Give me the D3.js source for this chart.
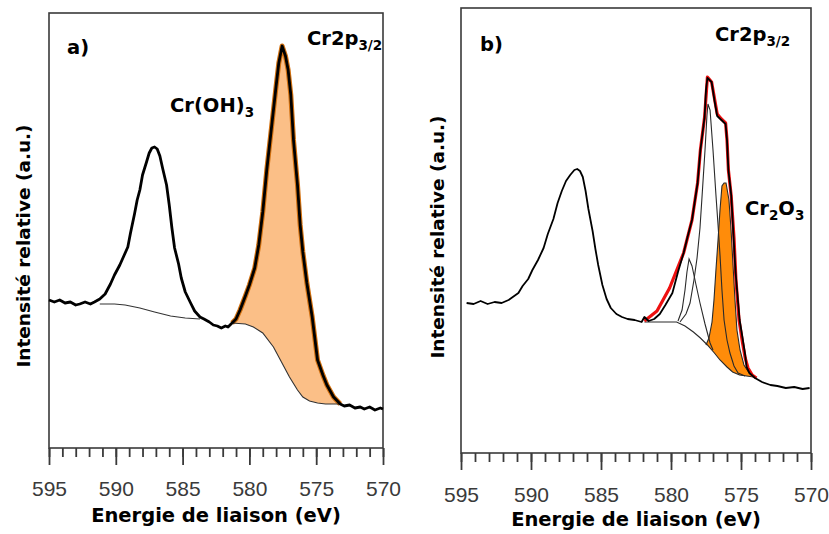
<!DOCTYPE html>
<html>
<head>
<meta charset="utf-8">
<script src="https://cdn.jsdelivr.net/npm/d3@7"></script>
<style>
    body { margin: 0; background: #fff; }
    svg { display: block; }
    .tick text { font-family: "Liberation Sans", Arial, sans-serif; }
</style>
</head>
<body>
<svg id="chart" width="829" height="534"></svg>
<script>
// binding energy (eV) / intensity (a.u.)
var majorTicks = [595, 590, 585, 580, 575, 570]
var minorTicks = [595, 594, 593, 592, 591, 590, 589, 588, 587, 586, 585, 584, 583, 582, 581, 580, 579, 578, 577, 576, 575, 574, 573, 572, 571, 570]

// a) spectrum
var aSpecE = [595.0, 594.6, 594.2, 593.8, 593.4, 593.0, 592.7, 592.3, 591.9, 591.6, 591.2, 590.8, 590.4, 590.1, 589.7, 589.4, 589.1, 588.9, 588.6, 588.4, 588.2, 588.0, 587.7, 587.5, 587.3, 587.1, 586.9, 586.7, 586.5, 586.2, 586.0, 585.8, 585.6, 585.3, 585.1, 584.8, 584.4, 584.1, 583.7, 583.4, 583.0, 582.7, 582.4, 582.1, 581.8, 581.6, 581.3, 581.0, 580.7, 580.3, 580.0, 579.6, 579.3, 579.0, 578.7, 578.3, 578.0, 577.8, 577.55, 577.3, 577.1, 576.9, 576.7, 576.4, 576.2, 576.0, 575.7, 575.3, 574.9, 574.5, 574.2, 573.7, 573.2, 572.9, 572.5, 572.1, 571.7, 571.4, 571.0, 570.6, 570.2, 570.0]
var aSpecI = [146, 144, 146, 143, 144, 141, 142, 144, 142, 144, 147, 152, 162, 171, 181, 190, 199, 213, 232, 246, 256, 271, 284, 293, 298, 299, 297, 290, 278, 261, 241, 218, 198, 182, 168, 154, 143, 135, 129, 127, 124, 121, 120, 118, 120, 119, 123, 127, 136, 150, 161, 178, 201, 234, 276, 324, 360, 383, 400, 390, 376, 351, 306, 261, 221, 194, 163, 129, 86, 71, 61, 49, 42, 40, 41, 38, 39, 37, 39, 36, 38, 37]
// a) backgrounds under Cr(OH)3 region and under Cr2p3/2
var aBg1E = [591.2, 590.1, 589.3, 588.2, 587.1, 585.9, 584.8, 583.7]
var aBg1I = [142, 142, 141, 138, 134, 130, 128, 127]
var aBg2E = [581.3, 580.3, 579.7, 579.0, 578.2, 577.6, 577.0, 576.4, 576.0, 575.5, 574.9, 574.3, 573.7, 573.2]
var aBg2I = [123, 122, 119, 113, 99, 84, 69, 56, 49, 45, 43, 42, 42, 42]

// b) spectrum
var bSpecE = [594.6, 594.1, 593.6, 593.1, 592.6, 592.1, 591.6, 591.3, 590.9, 590.6, 590.2, 589.9, 589.5, 589.1, 588.8, 588.4, 588.1, 587.8, 587.5, 587.2, 586.9, 586.7, 586.5, 586.3, 586.1, 585.9, 585.6, 585.4, 585.2, 584.9, 584.6, 584.3, 583.9, 583.5, 583.1, 582.6, 582.1, 581.9, 581.6, 581.2, 580.8, 580.4, 579.9, 579.5, 579.1, 578.8, 578.5, 578.1, 577.9, 577.6, 577.5, 577.4, 577.1, 576.9, 576.7, 576.4, 576.1, 576.0, 575.9, 575.7, 575.5, 575.4, 575.3, 575.1, 574.9, 574.7, 574.6, 574.4, 574.0, 573.5, 572.9, 572.4, 571.8, 571.2, 570.6, 570.1]
var bSpecI = [150, 149, 152, 149, 151, 150, 153, 156, 160, 167, 174, 183, 193, 205, 219, 234, 250, 262, 272, 278, 283, 284, 282, 276, 262, 244, 222, 204, 188, 168, 154, 145, 139, 136, 134, 133, 131, 136, 132, 134, 139, 148, 160, 181, 200, 217, 233, 270, 303, 336, 363, 375, 371, 353, 337, 333, 329, 313, 283, 258, 208, 183, 166, 133, 116, 98, 86, 80, 75, 71, 68, 67, 65, 66, 64, 65]
// b) fitted envelope
var bFitE = [581.9, 581.0, 580.1, 579.1, 578.5, 578.1, 577.9, 577.6, 577.4, 577.1, 576.9, 576.7, 576.4, 576.1, 576.0, 575.9, 575.7, 575.5, 575.36, 575.14, 574.9, 574.7, 574.5, 574.2, 573.9]
var bFitI = [132, 142, 165, 200, 233, 270, 303, 336, 376, 371, 355, 339, 334, 330, 313, 283, 257, 215, 173, 133, 111, 95, 85, 78, 75]
// b) background
var bBgE = [581.9, 580.8, 579.6, 579.0, 578.4, 577.9, 577.4, 576.9, 576.5, 576.0, 575.6, 575.1, 574.6, 574.1, 573.9]
var bBgI = [131, 131, 131, 127, 121, 115, 108, 100, 93, 86, 81, 78, 77, 76, 75]
// b) components
var bMainE = [579.36, 578.93, 578.64, 578.36, 578.14, 577.93, 577.79, 577.57, 577.43, 577.36, 577.21, 577.0, 576.79, 576.64, 576.5, 576.36, 576.21, 576.0, 575.79, 575.5, 575.21, 574.71]
var bMainI = [131, 139, 150, 173, 195, 225, 255, 303, 338, 349, 343, 303, 258, 228, 198, 163, 133, 113, 100, 87, 80, 77]
var bSmallE = [579.5, 579.21, 579.0, 578.86, 578.71, 578.5, 578.21, 577.93, 577.57, 577.21, 577.0]
var bSmallI = [132, 143, 163, 181, 194, 187, 168, 150, 129, 110, 103]
var bOxE = [577.5, 577.29, 577.07, 576.93, 576.79, 576.64, 576.5, 576.36, 576.21, 576.07, 575.86, 575.71, 575.57, 575.43, 575.29, 575.07, 574.79, 574.36, 573.93]
var bOxI = [108, 115, 131, 153, 183, 213, 243, 267, 270, 270, 253, 223, 188, 153, 123, 103, 88, 79, 76]

var FONT = '"DejaVu Sans", Verdana, sans-serif'
var svg = d3.select('#chart')

function zip(e, v) {
    return e.map((d, i) => [d, v[i]])
}

function drawPanel(conf) {
    var x = d3.scaleLinear().domain([595, 570]).range([conf.left, conf.right])
    var y = d3.scaleLinear().domain([0, 450]).range([conf.base, conf.base - 450])
    var line = d3.line().x(d => x(d[0])).y(d => y(d[1]))
    var g = svg.append('g')

    // frame
    g.append('rect')
        .attr('x', conf.left).attr('y', conf.top)
        .attr('width', conf.right - conf.left).attr('height', conf.bottom - conf.top)
        .attr('fill', 'none').attr('stroke', '#3a3a3a').attr('stroke-width', 1.6)

    // axis: minor ticks, then major ticks with labels
    var minor = d3.axisBottom(x).tickValues(minorTicks).tickSize(9).tickFormat('')
    var major = d3.axisBottom(x).tickValues(majorTicks).tickSize(17).tickPadding(conf.pad).tickFormat(d3.format('d'))
    g.append('g').attr('transform', `translate(0,${conf.bottom})`).call(minor)
    var ax = g.append('g').attr('transform', `translate(0,${conf.bottom})`).call(major)
    g.selectAll('.domain').remove()
    g.selectAll('.tick line').attr('stroke', '#3a3a3a').attr('stroke-width', 1.8)
    ax.selectAll('.tick text').attr('font-size', 21).attr('fill', '#3a3a3a')

    g.append('text')
        .attr('x', (conf.left + conf.right) / 2).attr('y', conf.titleY)
        .attr('text-anchor', 'middle')
        .attr('font-family', FONT).attr('font-weight', 'bold').attr('font-size', 19.5)
        .text('Energie de liaison (eV)')
    g.append('text')
        .attr('transform', `translate(${conf.yTitleX},${conf.yTitleY}) rotate(-90)`)
        .attr('text-anchor', 'middle')
        .attr('font-family', FONT).attr('font-weight', 'bold').attr('font-size', 18.5)
        .text('Intensité relative (a.u.)')

    return { g, x, y, line }
}

function label(g, px, py, parts) {
    var t = g.append('text')
        .attr('x', px).attr('y', py)
        .attr('font-family', FONT).attr('font-weight', 'bold').attr('font-size', 19.5)
    var shift = 0
    parts.forEach(p => {
        var dy = p.sub ? 5 - shift : -shift
        shift = p.sub ? 5 : 0
        t.append('tspan').attr('dy', dy).attr('font-size', p.sub ? 13.5 : 19.5).text(p.t)
    })
}

// ---------- panel a ----------
var A = drawPanel({ left: 49, right: 383, top: 13, bottom: 448, base: 446, pad: 16, titleY: 522, yTitleX: 30, yTitleY: 246 })
var aSpec = zip(aSpecE, aSpecI)
var aPeak = aSpec.filter(d => d[0] <= 581.3 && d[0] >= 573.2)
var aBg2 = zip(aBg2E, aBg2I)
A.g.append('path')
    .attr('d', A.line(aPeak.concat(aBg2.slice().reverse())) + 'Z')
    .attr('fill', '#fbbf87')
A.g.append('path')
    .attr('d', A.line(aPeak))
    .attr('fill', 'none').attr('stroke', '#d2700f').attr('stroke-width', 5).attr('stroke-linejoin', 'round')
A.g.selectAll('.bg')
    .data([zip(aBg1E, aBg1I), aBg2])
    .join('path')
    .attr('d', A.line)
    .attr('fill', 'none').attr('stroke', '#333').attr('stroke-width', 1.1)
A.g.append('path')
    .attr('d', A.line(aSpec))
    .attr('fill', 'none').attr('stroke', '#000').attr('stroke-width', 2.8).attr('stroke-linejoin', 'round')

label(A.g, 67, 54, [{ t: 'a)' }])
label(A.g, 170, 112, [{ t: 'Cr(OH)' }, { t: '3', sub: true }])
label(A.g, 307, 45, [{ t: 'Cr2p' }, { t: '3/2', sub: true }])

// ---------- panel b ----------
var B = drawPanel({ left: 461, right: 811, top: 8, bottom: 453, base: 453, pad: 17, titleY: 526, yTitleX: 444, yTitleY: 237 })
var bBg = zip(bBgE, bBgI)
var bOx = zip(bOxE, bOxI)
var oxLo = d3.min(bOxE), oxHi = d3.max(bOxE)
B.g.append('path')
    .attr('d', B.line(bOx.concat(bBg.filter(d => d[0] < oxHi && d[0] >= oxLo).reverse())) + 'Z')
    .attr('fill', '#ff8c0a')
B.g.selectAll('.comp')
    .data([bBg, zip(bMainE, bMainI), zip(bSmallE, bSmallI), bOx])
    .join('path')
    .attr('d', B.line)
    .attr('fill', 'none').attr('stroke', '#2a2a2a').attr('stroke-width', 1.1)
B.g.append('path')
    .attr('d', B.line(zip(bFitE, bFitI)))
    .attr('fill', 'none').attr('stroke', '#ee1010').attr('stroke-width', 3.2).attr('stroke-linejoin', 'round')
B.g.append('path')
    .attr('d', B.line(zip(bSpecE, bSpecI)))
    .attr('fill', 'none').attr('stroke', '#000').attr('stroke-width', 1.8).attr('stroke-linejoin', 'round')

label(B.g, 480, 51, [{ t: 'b)' }])
label(B.g, 715, 41, [{ t: 'Cr2p' }, { t: '3/2', sub: true }])
label(B.g, 745, 215, [{ t: 'Cr' }, { t: '2', sub: true }, { t: 'O' }, { t: '3', sub: true }])
</script>
</body>
</html>
